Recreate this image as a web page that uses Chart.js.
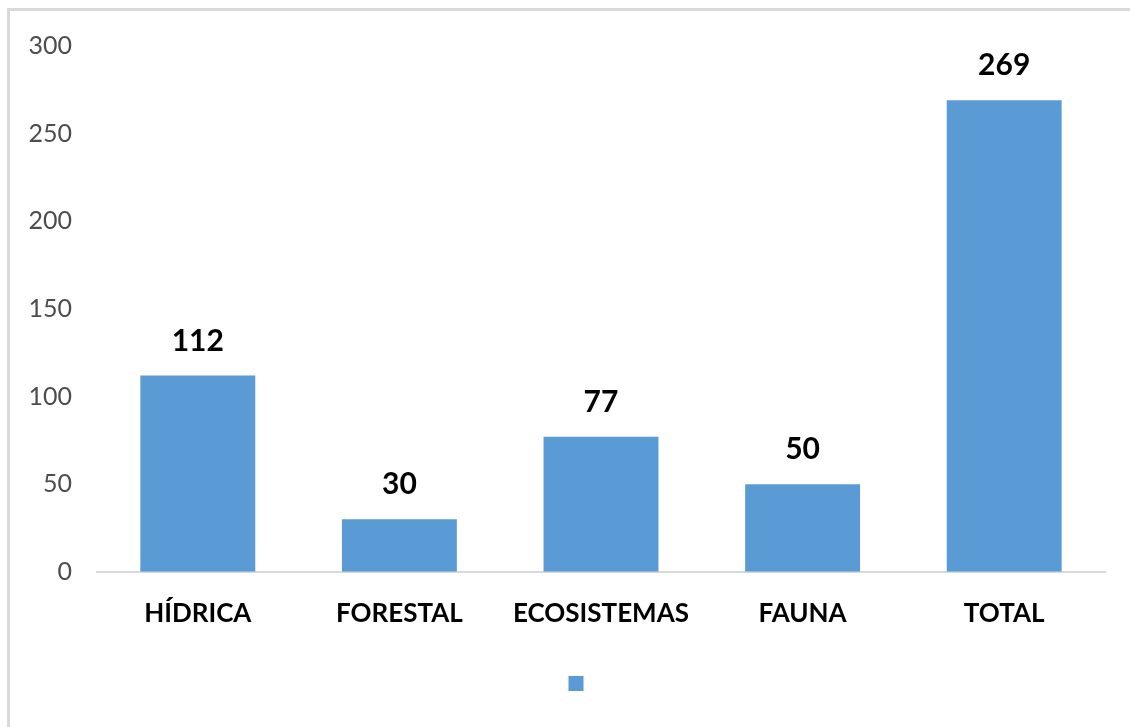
<!DOCTYPE html>
<html>
<head>
<meta charset="utf-8">
<script src="https://cdn.jsdelivr.net/npm/chart.js@4/dist/chart.umd.min.js"></script>
<style>
  html, body { margin: 0; padding: 0; background: #fff; overflow: hidden; }
  #frame { position: absolute; left: 7px; top: 8px; width: 1140px; height: 740px; border: 3px solid #d9d9d9; box-sizing: border-box; }
  #wrap { position: absolute; left: 0; top: 0; width: 1130px; height: 727px; }
</style>
</head>
<body>
<div id="frame"></div>
<div id="wrap"><canvas id="myChart"></canvas></div>
<script>
// categories and values
var categories = ["HÍDRICA", "FORESTAL", "ECOSISTEMAS", "FAUNA", "TOTAL"];
var values = [112, 30, 77, 50, 269];
var yTicks = [0, 50, 100, 150, 200, 250, 300];

// draw the value above each bar
var barLabels = {
  id: 'barLabels',
  afterDatasetsDraw: function (chart) {
    var ctx = chart.ctx;
    var meta = chart.getDatasetMeta(0);
    ctx.save();
    ctx.font = 'bold 30px Lato';
    ctx.fillStyle = '#000';
    ctx.textAlign = 'center';
    ctx.textBaseline = 'alphabetic';
    meta.data.forEach(function (bar, i) {
      ctx.fillText(values[i], bar.x, bar.y - 25);
    });
    ctx.restore();
  }
};

// legend square sits under the plot centre, not the canvas centre
var legendShift = {
  id: 'legendShift',
  afterLayout: function (chart) {
    chart.legend.left += 27;
    chart.legend.right += 27;
  }
};

var ctx = document.getElementById('myChart').getContext('2d');
var myChart = new Chart(ctx, {
  type: 'bar',
  data: {
    labels: categories,
    datasets: [{
      label: '',
      data: values,
      backgroundColor: '#5b9bd5',
      borderWidth: 0,
      categoryPercentage: 1,
      barPercentage: 0.57
    }]
  },
  options: {
    responsive: true,
    maintainAspectRatio: false,
    animation: false,
    layout: { padding: { left: 0, right: 25, top: 46, bottom: 26 } },
    plugins: {
      title: { display: false },
      tooltip: { enabled: false },
      legend: {
        display: true,
        position: 'bottom',
        labels: {
          boxWidth: 15,
          boxHeight: 15,
          padding: 20,
          font: { size: 14 },
          generateLabels: function (chart) {
            return [{ text: '', fillStyle: '#5b9bd5', strokeStyle: '#5b9bd5', lineWidth: 0, datasetIndex: 0 }];
          }
        }
      }
    },
    scales: {
      x: {
        grid: { display: false, drawTicks: false },
        border: { display: true, color: '#d9d9d9', width: 2 },
        ticks: {
          padding: 26.5,
          color: '#000',
          font: { family: 'Lato', size: 26, weight: 'bold' }
        }
      },
      y: {
        min: 0,
        max: 300,
        afterFit: function (scale) { scale.width = 97; },
        afterBuildTicks: function (scale) {
          scale.ticks = yTicks.map(function (v) { return { value: v }; });
        },
        grid: { display: false, drawTicks: false },
        border: { display: false },
        ticks: {
          padding: 25,
          color: '#4d4d4d',
          font: { family: 'Lato', size: 25 }
        }
      }
    }
  },
  plugins: [barLabels, legendShift]
});
</script>
</body>
</html>
